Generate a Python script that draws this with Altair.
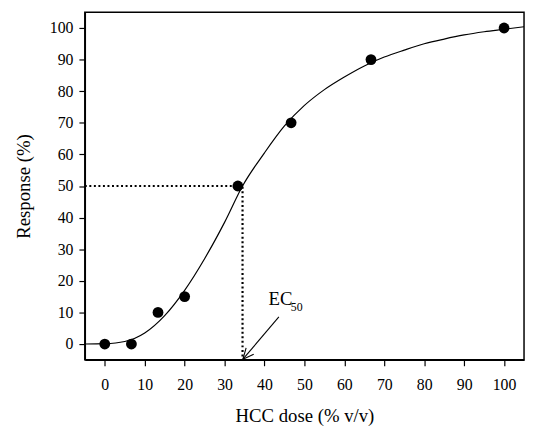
import altair as alt
import pandas as pd

# Observed data points
dose = [0, 6.67, 13.33, 20, 33.33, 46.67, 66.67, 100]
response = [0, 0, 10, 15, 50, 70, 90, 100]

# Fitted curve
curve_x = [-5, 0, 5, 10, 15, 20, 25, 30, 34.5, 40, 45, 50, 55, 60, 65, 70, 75, 80, 85, 90, 95, 100, 105]
curve_y = [0, 0.1, 0.8, 3.5, 9, 17, 27, 38.5, 50, 60.5, 69, 75.5, 80.5, 84.5, 88, 90.8, 93, 95, 96.5, 97.8, 98.8, 99.6, 100.4]

# EC50 guide lines
ec50 = 34.5
guide_x = [-5, ec50, ec50]
guide_y = [50, 50, -5]

# Arrow (start, tip) and arrowhead wings
arrow_x = [43.6, 34.6]
arrow_y = [8.6, -4.8]
wing1_x = [34.6 + 2.7, 34.6]
wing1_y = [-4.8 + 1.6, -4.8]
wing2_x = [34.6 + 0.8, 34.6]
wing2_y = [-4.8 + 3.6, -4.8]

xticks = list(range(0, 101, 10))
yticks = list(range(0, 101, 10))

FONT = "Liberation Serif"

xs = alt.Scale(domain=[-5, 105], nice=False, zero=False)
ys = alt.Scale(domain=[-5, 105], nice=False, zero=False)

xaxis = alt.Axis(values=xticks, title="HCC dose (% v/v)", tickCount=11,
                 labelPadding=11, titlePadding=15, labelOverlap=False)
yaxis = alt.Axis(values=yticks, title="Response (%)", tickCount=11,
                 labelPadding=6, titlePadding=16, labelOverlap=False)

X = alt.X("x:Q", scale=xs, axis=xaxis)
Y = alt.Y("y:Q", scale=ys, axis=yaxis)

curve_df = pd.DataFrame({"x": curve_x, "y": curve_y})
pts_df = pd.DataFrame({"x": dose, "y": response})
guide_df = pd.DataFrame({"x": guide_x, "y": guide_y, "o": [0, 1, 2]})
arrow_df = pd.DataFrame({"x": arrow_x + wing1_x + wing2_x,
                         "y": arrow_y + wing1_y + wing2_y,
                         "g": ["a", "a", "b", "b", "c", "c"]})
text_df = pd.DataFrame({"x": [41.0], "y": [12.4], "t": ["EC"]})
sub_df = pd.DataFrame({"x": [46.6], "y": [10.6], "t": ["50"]})

curve = alt.Chart(curve_df).mark_line(color="black", strokeWidth=1.2, interpolate="monotone").encode(
    x=X, y=Y
)
guide = alt.Chart(guide_df).mark_line(color="black", strokeWidth=2.2, strokeDash=[2, 2.6]).encode(
    x=X, y=Y, order="o:Q"
)
points = alt.Chart(pts_df).mark_circle(color="black", size=120, opacity=1).encode(
    x=X, y=Y
)
arrow = alt.Chart(arrow_df).mark_line(color="black", strokeWidth=1.1).encode(
    x=X, y=Y, detail="g:N"
)
txt = alt.Chart(text_df).mark_text(font=FONT, fontSize=19, align="left", baseline="alphabetic", color="black").encode(
    x=X, y=Y, text="t:N"
)
sub = alt.Chart(sub_df).mark_text(font=FONT, fontSize=12, align="left", baseline="alphabetic", color="black").encode(
    x=X, y=Y, text="t:N"
)

chart = alt.layer(curve, guide, points, arrow, txt, sub).properties(
    width=446, height=353,
    autosize=alt.AutoSizeParams(type="none"),
    padding={"left": 78, "top": 1, "right": 2, "bottom": 68},
).configure_view(
    stroke="black", strokeWidth=1.5
).configure_axis(
    grid=False, tickSize=6, labelFont=FONT, titleFont=FONT,
    labelFontSize=16, titleFontSize=19, titleFontWeight="normal",
    labelColor="black", titleColor="black", domainColor="black",
    tickColor="black", domainWidth=1.5, tickWidth=1.2,
)

chart.save("out.html", embed_options={"renderer": "svg", "actions": False})
